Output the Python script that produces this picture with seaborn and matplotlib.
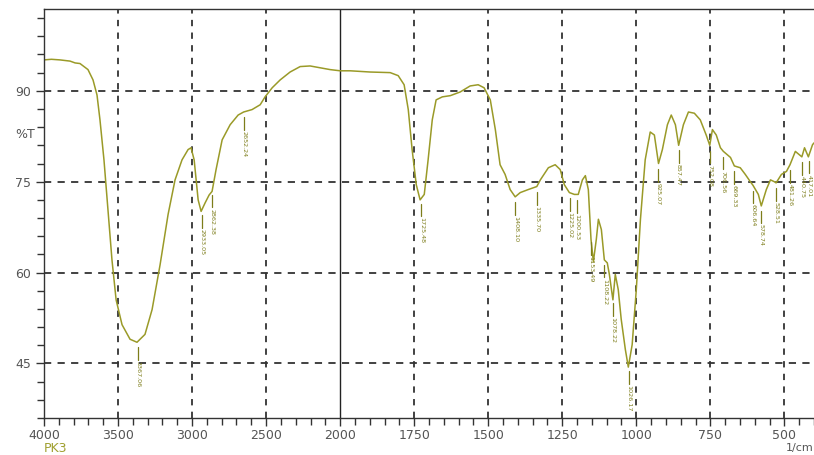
import numpy as np
import pandas as pd
import matplotlib
matplotlib.use("Agg")
import matplotlib.pyplot as plt
import seaborn as sns

# ---- data ----
wavenumber = [4000, 3950, 3892, 3860, 3824, 3790, 3757, 3730, 3703, 3669, 3642, 3622, 3595, 3568, 3541, 3513,
              3473, 3419, 3372, 3318, 3270, 3216, 3162, 3115, 3068, 3027, 3007, 2986,
              2959, 2939, 2912, 2885, 2865, 2838, 2797, 2743, 2689, 2652, 2595, 2540,
              2507, 2459, 2405, 2338, 2270, 2203, 2135, 2068, 2000,
              1966, 1899, 1831, 1804, 1784, 1770, 1757, 1743, 1730, 1716, 1703, 1689,
              1676, 1655, 1628, 1595, 1561, 1534, 1514, 1493, 1476, 1460, 1443, 1426,
              1409, 1392, 1365, 1336, 1324, 1297, 1274, 1257, 1243, 1226, 1209, 1196,
              1182, 1172, 1162, 1153, 1145, 1135, 1128, 1118, 1108, 1098, 1091, 1079,
              1071, 1061, 1051, 1037, 1027, 1014, 1000, 986, 970, 953, 939, 925,
              912, 895, 882, 868, 857, 841, 824, 804, 784, 764, 752, 743, 730, 716,
              706, 682, 669, 649, 632, 615, 606, 588, 578, 561, 547, 534, 528, 510,
              493, 481, 463, 441, 432, 419, 405, 400]
transmittance = [95.1, 95.2, 95.1, 95.0, 94.9, 94.6, 94.5, 94.0, 93.5, 91.8, 89.3, 85.2, 78.6, 70.4, 62.1, 55.5,
                 51.4, 49.0, 48.5, 49.8, 53.9, 61.3, 69.6, 75.3, 78.6, 80.3, 80.6, 78.6,
                 72.0, 70.1, 71.5, 72.8, 73.4, 77.0, 81.9, 84.4, 86.0, 86.5, 86.9, 87.7,
                 89.0, 90.5, 91.8, 93.1, 94.0, 94.1, 93.8, 93.5, 93.3,
                 93.3, 93.1, 93.0, 92.5, 91.0, 86.9, 80.3, 74.5, 72.0, 72.9, 78.6, 85.2,
                 88.5, 89.0, 89.2, 89.8, 90.8, 91.0, 90.5, 88.5, 83.6, 77.8, 76.2, 73.7,
                 72.5, 73.2, 73.7, 74.2, 75.3, 77.3, 77.8, 77.0, 74.5, 73.2, 72.9, 72.9,
                 75.3, 76.0, 73.7, 65.5, 61.8, 65.5, 68.8, 67.1, 62.1, 61.6, 59.7, 55.5,
                 59.7, 57.2, 52.3, 47.3, 44.4, 48.1, 57.2, 68.8, 78.6, 83.2, 82.7, 78.0,
                 80.3, 84.4, 86.0, 84.4, 81.0, 84.4, 86.5, 86.3, 85.2, 82.7, 81.0, 83.6,
                 82.7, 80.6, 80.0, 79.0, 77.6, 77.3, 76.2, 75.0, 74.4, 72.9, 71.0, 73.7,
                 75.3, 75.0, 74.8, 76.2, 76.7, 77.8, 80.0, 79.1, 80.6, 79.1, 81.1, 81.4]

peak_labels = ["3367.06", "2933.05", "2862.38", "2652.24", "1725.48", "1408.10", "1335.70",
               "1225.02", "1200.53", "1153.49", "1108.22", "1078.22", "1026.17", "925.07",
               "857.47", "752.08", "706.56", "669.33", "606.64", "578.74", "528.51",
               "481.26", "440.75", "417.01"]
peak_positions = [3367.06, 2933.05, 2862.38, 2652.24, 1725.48, 1408.10, 1335.70,
                  1225.02, 1200.53, 1153.49, 1108.22, 1078.22, 1026.17, 925.07,
                  857.47, 752.08, 706.56, 669.33, 606.64, 578.74, 528.51,
                  481.26, 440.75, 417.01]

x_major = [4000, 3500, 3000, 2500, 2000, 1750, 1500, 1250, 1000, 750, 500]
y_major = [45, 60, 75, 90]

df = pd.DataFrame({"wn": wavenumber, "T": transmittance})

line_color = "#9a9a28"
label_color = "#7d7d1a"

sns.set_style("ticks")
plt.rcParams["font.family"] = ["DejaVu Sans"]

fig = plt.figure(figsize=(8.14, 4.55), dpi=100)
ax = fig.add_axes([44 / 814, 37 / 455, 770 / 814, 409 / 455])


def fwd(x):
    x = np.asarray(x, dtype=float)
    return np.where(x <= 2000, x, 2000 + (x - 2000) / 2.0)


def inv(y):
    y = np.asarray(y, dtype=float)
    return np.where(y <= 2000, y, 2000 + (y - 2000) * 2.0)


ax.set_xscale("function", functions=(fwd, inv))

sns.lineplot(data=df, x="wn", y="T", sort=False, color=line_color, lw=1.1, ax=ax)

ax.set_xlim(4000, 400)
ax.set_ylim(36, 103.5)

# grid
for xv in x_major:
    if xv == 4000:
        continue
    if xv == 2000:
        ax.axvline(xv, color="#222222", lw=1.0, zorder=0)
    else:
        ax.axvline(xv, color="#333333", lw=1.3, ls=(0, (3.5, 3.5)), zorder=0)
for yv in y_major:
    ax.axhline(yv, color="#333333", lw=1.3, ls=(0, (4, 3.5)), zorder=0)

# ticks
ax.set_xticks(x_major)
ax.set_xticklabels([str(v) for v in x_major])
minor_x = list(range(4000, 2000, -100)) + list(range(2000, 399, -50))
ax.set_xticks(minor_x, minor=True)
ax.set_yticks(y_major)
ax.set_yticklabels([str(v) for v in y_major])
ax.set_yticks(list(range(36, 104, 3)), minor=True)
ax.tick_params(axis="both", which="major", length=6, width=1.0, color="#333333",
               labelsize=9, labelcolor="#555555", direction="out")
ax.tick_params(axis="both", which="minor", length=5, width=1.0, color="#333333", direction="out")
ax.tick_params(axis="x", pad=2)
ax.set_xlabel("")
ax.set_ylabel("")
for s in ["left", "bottom", "top"]:
    ax.spines[s].set_color("#333333")
    ax.spines[s].set_linewidth(1.0)
ax.spines["right"].set_visible(False)

# peak annotations
wn_arr = np.array(wavenumber[::-1], dtype=float)
t_arr = np.array(transmittance[::-1], dtype=float)
for lab, pos in zip(peak_labels, peak_positions):
    tv = float(np.interp(pos, wn_arr, t_arr))
    ax.plot([pos, pos], [tv - 0.9, tv - 3.0], color=label_color, lw=0.9)
    ax.text(pos, tv - 3.2, lab, rotation=270, ha="center", va="top",
            fontsize=4.6, color=label_color,
            bbox=dict(boxstyle="square,pad=0", fc="none", ec="none"))

fig.text(15 / 814, 1 - 135 / 455, "%T", fontsize=9, color="#555555", ha="left", va="center")
fig.text(44 / 814, 1 - 448 / 455, "PK3", fontsize=9, color="#a0a030", ha="left", va="center")
fig.text(800 / 814, 1 - 448 / 455, "1/cm", fontsize=8, color="#555555", ha="center", va="center")

fig.savefig("out.png", dpi=100)
